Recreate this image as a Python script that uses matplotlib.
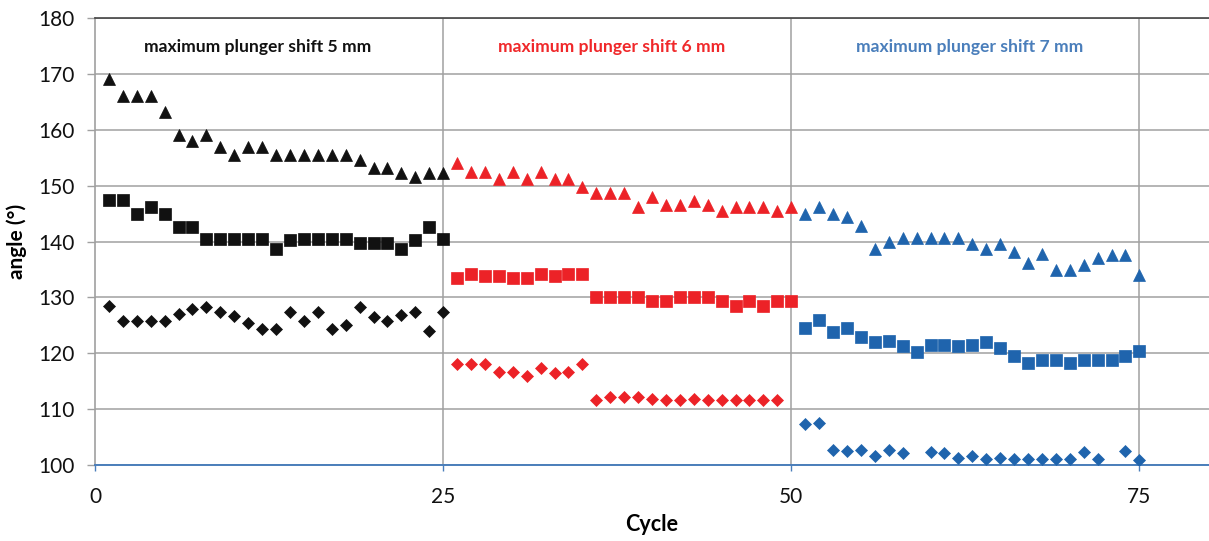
import matplotlib
matplotlib.use("Agg")
import matplotlib.pyplot as plt

plt.rcParams['font.family'] = ['Lato', 'DejaVu Sans']

# ---- data ----
cycles_5 = list(range(1, 26))
tri_5 = [169, 166, 166, 166, 163.2, 159, 158, 159, 157, 155.5, 157, 157, 155.5,
         155.5, 155.5, 155.5, 155.5, 155.5, 154.5, 153.2, 153.2, 152.2, 151.6, 152.2, 152.2]
sq_5 = [147.4, 147.4, 144.9, 146.2, 144.9, 142.6, 142.6, 140.5, 140.5, 140.5, 140.5, 140.5,
        138.6, 140.2, 140.5, 140.5, 140.5, 140.5, 139.7, 139.7, 139.7, 138.6, 140.2, 142.6, 140.5]
dia_5 = [128.5, 125.7, 125.7, 125.7, 125.7, 127.0, 127.9, 128.2, 127.3, 126.7, 125.5, 124.3,
         124.3, 127.3, 125.7, 127.3, 124.3, 125.0, 128.2, 126.5, 125.7, 126.8, 127.3, 123.9, 127.3]

cycles_6 = list(range(26, 51))
tri_6 = [154.1, 152.5, 152.5, 151.1, 152.5, 151.1, 152.5, 151.1, 151.1, 149.8, 148.7, 148.7,
         148.7, 146.1, 148.0, 146.5, 146.5, 147.3, 146.5, 145.5, 146.1, 146.1, 146.1, 145.5, 146.1]
sq_6 = [133.4, 134.2, 133.9, 133.9, 133.4, 133.4, 134.2, 133.9, 134.2, 134.2, 130.0, 130.0,
        130.0, 130.0, 129.3, 129.3, 130.0, 130.0, 130.0, 129.3, 128.4, 129.3, 128.4, 129.3, 129.3]
dia_6_cycles = list(range(26, 50))
dia_6 = [118.0, 118.0, 118.0, 116.6, 116.6, 115.9, 117.3, 116.4, 116.6, 118.0, 111.6, 112.1,
         112.1, 112.1, 111.8, 111.6, 111.6, 111.9, 111.6, 111.6, 111.6, 111.6, 111.6, 111.6]

cycles_7 = list(range(51, 76))
tri_7 = [144.9, 146.1, 145.0, 144.3, 142.7, 138.7, 140.0, 140.6, 140.6, 140.6, 140.6, 140.6,
         139.6, 138.7, 139.6, 138.2, 136.1, 137.8, 134.9, 134.9, 135.8, 137.1, 137.6, 137.6, 134.0]
sq_7 = [124.5, 126.0, 123.8, 124.5, 122.9, 122.0, 122.2, 121.3, 120.2, 121.5, 121.5, 121.3,
        121.5, 122.0, 120.9, 119.5, 118.3, 118.8, 118.8, 118.3, 118.8, 118.8, 118.8, 119.5, 120.4]
dia_7_cycles = [51, 52, 53, 54, 55, 56, 57, 58, 60, 61, 62, 63, 64, 65, 66, 67, 68, 69, 70,
                71, 72, 74, 75]
dia_7 = [107.3, 107.6, 102.7, 102.5, 102.7, 101.6, 102.7, 102.2, 102.4, 102.2, 101.3, 101.6,
         101.1, 101.3, 101.1, 101.1, 101.1, 101.1, 101.1, 102.4, 101.1, 102.5, 100.9]

labels = ["maximum plunger shift 5 mm", "maximum plunger shift 6 mm", "maximum plunger shift 7 mm"]
label_x = [11.7, 37.1, 62.8]
label_y = 174.8

xticks = [0, 25, 50, 75]
yticks = [100, 110, 120, 130, 140, 150, 160, 170, 180]

# ---- styles ----
c_black = '#111111'
c_red = '#EC2227'
c_blue = '#1F64AD'
text_colors = ['#111111', '#F0282A', '#4A7EBB']

fig = plt.figure(figsize=(12.09, 5.41), dpi=100)
ax = fig.add_axes([95 / 1209, 1 - 465 / 541, 1 - 95 / 1209, (465 - 18) / 541])

groups = [
    (cycles_5, tri_5, sq_5, cycles_5, dia_5, c_black),
    (cycles_6, tri_6, sq_6, dia_6_cycles, dia_6, c_red),
    (cycles_7, tri_7, sq_7, dia_7_cycles, dia_7, c_blue),
]
for cx, tri, sq, dcx, dia, col in groups:
    ax.plot(cx, tri, linestyle='none', marker='^', ms=8.2, mfc=col, mec=col, mew=0.5, zorder=3)
    ax.plot(cx, sq, linestyle='none', marker='s', ms=8.4, mfc=col, mec=col, mew=0.5, zorder=3)
    ax.plot(dcx, dia, linestyle='none', marker='D', ms=6.3, mfc=col, mec=col, mew=0.5, zorder=3)

for lx, lab, tc in zip(label_x, labels, text_colors):
    ax.text(lx, label_y, lab, ha='center', va='center', fontsize=12.6, fontweight='bold',
            color=tc)

ax.set_xlim(0, 80)
ax.set_ylim(100, 180)
ax.set_xticks(xticks)
ax.set_yticks(yticks)

ax.grid(True, axis='y', color='#A0A0A0', linewidth=1.1, zorder=1)
for xv in xticks[1:]:
    ax.axvline(xv, color='#A0A0A0', linewidth=1.1, zorder=1)

ax.spines['right'].set_visible(False)
ax.spines['top'].set_color('#444444')
ax.spines['top'].set_linewidth(1.2)
ax.spines['left'].set_color('#A0A0A0')
ax.spines['left'].set_linewidth(1.2)
ax.spines['bottom'].set_color('#4A7EBB')
ax.spines['bottom'].set_linewidth(1.4)

ax.tick_params(axis='y', direction='out', length=6, width=1, color='#A0A0A0',
               labelsize=15, pad=9, labelcolor='#111111')
ax.tick_params(axis='x', direction='out', length=4, width=1, color='#4A7EBB',
               labelsize=15, pad=12, labelcolor='#111111')

ax.set_xlabel('Cycle', fontsize=15.5, fontweight='bold', labelpad=5)
ax.set_ylabel('angle (°)', fontsize=15, fontweight='bold', labelpad=8)

fig.savefig('out.png', dpi=100)
